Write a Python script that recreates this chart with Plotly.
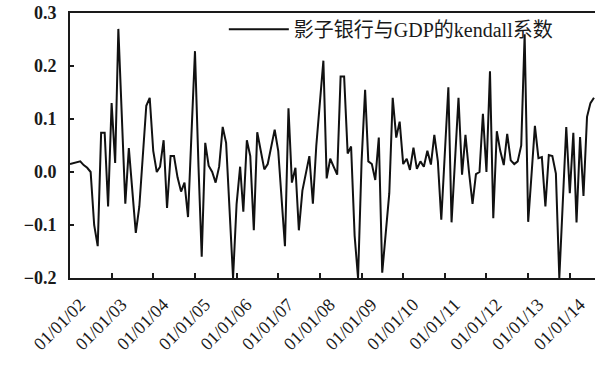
import pandas as pd
import plotly.graph_objects as go

series_name = "影子银行与GDP的kendall系数"
start_month = "2002-01-01"
kendall_values = [
    0.015, 0.017, 0.019, 0.02, 0.013, 0.008, 0.0, -0.10, -0.14, 0.074,
    0.074, -0.065, 0.13, 0.017, 0.27, 0.10, -0.06, 0.045, -0.03, -0.115,
    -0.065, 0.03, 0.125, 0.14, 0.04, 0.0, 0.01, 0.06, -0.068, 0.03,
    0.03, -0.01, -0.037, -0.02, -0.085, 0.07, 0.228, 0.01, -0.16, 0.055,
    0.012, 0.0, -0.02, 0.01, 0.085, 0.055, -0.07, -0.20, -0.06, 0.01,
    -0.075, 0.06, 0.03, -0.11, 0.075, 0.04, 0.005, 0.015, 0.05, 0.08,
    0.04, -0.05, -0.14, 0.12, -0.02, 0.008, -0.11, -0.035, 0.0, 0.03,
    -0.06, 0.05, 0.13, 0.21, -0.012, 0.025, 0.01, -0.005, 0.18, 0.18,
    0.035, 0.048, -0.12, -0.20, 0.02, 0.155, 0.02, 0.015, -0.015, 0.065,
    -0.19, -0.12, -0.04, 0.14, 0.065, 0.095, 0.015, 0.025, 0.004, 0.046,
    0.006, 0.02, 0.01, 0.04, 0.014, 0.07, 0.02, -0.09, 0.03, 0.16,
    -0.095, 0.02, 0.14, -0.005, 0.07, 0.0, -0.06, -0.004, 0.0, 0.11,
    0.0, 0.19, -0.087, 0.077, 0.04, 0.013, 0.072, 0.022, 0.015, 0.02,
    0.05, 0.26, -0.094, 0.0, 0.087, 0.026, 0.028, -0.065, 0.032, 0.03,
    -0.003, -0.20, -0.05, 0.085, -0.04, 0.074, -0.095, 0.066, -0.045, 0.104,
    0.13, 0.14,
]
tick_years = list(range(2002, 2015))
tick_dates = [f"{y}-01-01" for y in tick_years]
tick_labels = [f"01/01/{y % 100:02d}" for y in tick_years]
y_ticks = [-0.2, -0.1, 0.0, 0.1, 0.2, 0.3]

dates = pd.date_range(start_month, periods=len(kendall_values), freq="MS")

serif = "Liberation Serif, Times New Roman, Noto Sans CJK SC, serif"

fig = go.Figure()
fig.add_trace(go.Scatter(
    x=dates, y=kendall_values, mode="lines", name=series_name,
    line=dict(color="#111111", width=2),
))

fig.update_layout(
    width=595, height=367,
    margin=dict(l=70, r=0, t=13, b=89, autoexpand=False),
    paper_bgcolor="white", plot_bgcolor="white",
    font=dict(family=serif, color="#1a1a1a", size=14),
    showlegend=True,
    legend=dict(
        x=0.293, y=1.012, xanchor="left", yanchor="top",
        bgcolor="rgba(0,0,0,0)", borderwidth=0,
        font=dict(family="Liberation Serif, Noto Sans CJK SC, serif", size=20, color="#1a1a1a"),
        itemwidth=60,
    ),
    xaxis=dict(
        type="date",
        range=["2002-01-01", "2014-08-10"],
        tickvals=tick_dates, ticktext=tick_labels,
        tickangle=-45,
        ticks="inside", ticklen=5, tickwidth=1.5, tickcolor="#1a1a1a",
        showline=True, linecolor="#1a1a1a", linewidth=2, mirror=True,
        showgrid=False, zeroline=False, automargin=False,
        ticklabelshift=10, ticklabelstandoff=7,
        tickfont=dict(family=serif, size=18),
    ),
    yaxis=dict(
        range=[-0.2, 0.3],
        tickvals=y_ticks, tickformat=".1f",
        ticks="inside", ticklen=4, tickwidth=1.5, tickcolor="#1a1a1a",
        showline=True, linecolor="#1a1a1a", linewidth=2,
        showgrid=False, zeroline=False, automargin=False,
        ticklabelstandoff=8,
        tickfont=dict(family=serif, size=18, weight="bold"),
    ),
)

fig.write_html("out.html", config={"displayModeBar": False},
               post_script="document.body.style.margin='0px';")
